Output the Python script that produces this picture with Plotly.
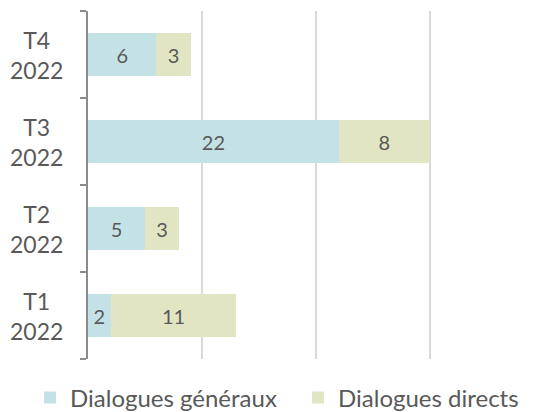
import plotly.graph_objects as go

categories = ["T1 2022", "T2 2022", "T3 2022", "T4 2022"]
cat_labels = ["T1<br>2022", "T2<br>2022", "T3<br>2022", "T4<br>2022"]
generaux = [2, 5, 22, 6]
directs = [11, 3, 8, 3]

TXT = "#595959"
FONT = "Lato"

fig = go.Figure()
fig.add_trace(go.Bar(
    y=categories, x=generaux, orientation="h", name="Dialogues généraux",
    marker=dict(color="#C4E1E6", line=dict(width=0)),
    text=generaux, textposition="inside", insidetextanchor="middle",
    textangle=0, textfont=dict(size=20, color=TXT, family=FONT),
    hoverinfo="skip",
))
fig.add_trace(go.Bar(
    y=categories, x=directs, orientation="h", name="Dialogues directs",
    marker=dict(color="#E2E5C4", line=dict(width=0)),
    text=directs, textposition="inside", insidetextanchor="middle",
    textangle=0, textfont=dict(size=20, color=TXT, family=FONT),
    hoverinfo="skip",
))

for c, lab in zip(categories, cat_labels):
    fig.add_annotation(
        x=-0.111, xref="paper", y=c, yref="y", text=lab, showarrow=False,
        xanchor="center", yanchor="middle", align="center",
        font=dict(size=23, color=TXT, family=FONT),
    )

fig.update_layout(
    width=540, height=412,
    margin=dict(l=80, r=0, t=3, b=61, autoexpand=False),
    barmode="stack", bargap=0.5,
    plot_bgcolor="white", paper_bgcolor="white",
    font=dict(family=FONT, color=TXT),
    showlegend=True,
    legend=dict(
        orientation="h", xref="paper", x=-0.126, xanchor="left",
        yref="paper", y=-0.112, yanchor="middle",
        font=dict(size=24, color=TXT, family=FONT),
        itemwidth=30, entrywidth=223, entrywidthmode="pixels",
        traceorder="normal",
    ),
    xaxis=dict(
        range=[0, 40.35], dtick=10, showticklabels=False,
        showgrid=True, gridcolor="#D9D9D9", gridwidth=2,
        zeroline=False, showline=False, fixedrange=True,
    ),
    yaxis=dict(
        categoryorder="array", categoryarray=categories,
        showticklabels=False, showline=True, linecolor="#8C8C8C", linewidth=2,
        ticks="outside", tickson="boundaries", ticklen=6, tickcolor="#8C8C8C",
        tickwidth=2, showgrid=False, fixedrange=True,
    ),
)

fig.write_html("out.html")
